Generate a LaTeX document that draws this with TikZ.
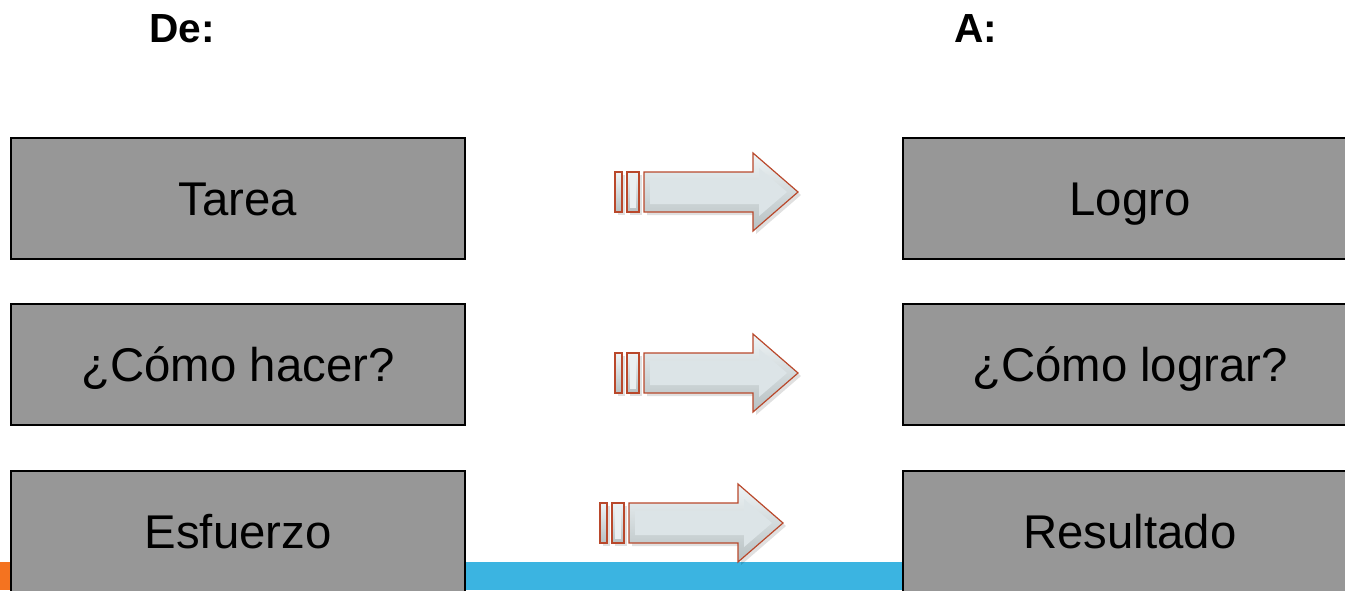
\documentclass[tikz,border=0pt]{standalone}
\usepackage{fontspec}
\setmainfont{Liberation Sans}
\usepackage{tikz,xcolor}
\usetikzlibrary{calc}

\definecolor{cajagris}{HTML}{979797}
\definecolor{bandaazul}{HTML}{3BB4E1}
\definecolor{bandanaranja}{HTML}{F47320}
\definecolor{flechaborde}{HTML}{B9482B}
\definecolor{flechaclara}{HTML}{EEF4F6}
\definecolor{flechaoscura}{HTML}{B7C0C2}
\definecolor{flechacara}{HTML}{DCE4E7}

\tikzset{
  caja/.style={draw=black, line width=0.8pt, fill=cajagris, minimum width=340.5pt,
    minimum height=90.75pt, inner sep=0pt, text height=25.5pt, text depth=0pt,
    font=\fontsize{35.5}{40}\selectfont},
  titulo/.style={font=\fontsize{30.5}{36}\selectfont\bfseries, inner sep=0pt},
  flechafondo/.style={draw=flechaborde, line width=0.9pt, top color=flechaclara,
    bottom color=flechaoscura},
  flechacaraint/.style={fill=flechacara}
}

% big bevelled arrow: #1 = left end, #2 = middle height
\newcommand{\flecha}[2]{%
  \begin{scope}[shift={(#1,#2)}]
    % shadow
    \fill[black, opacity=0.12] (3,-17) rectangle (10,23);
    \fill[black, opacity=0.12] (15,-17) rectangle (27,23);
    \fill[black, opacity=0.12] (32,-17) -- (141,-17) -- (141,-36) -- (186,3)
      -- (141,42) -- (141,23) -- (32,23) -- cycle;
    % two small bars
    \draw[flechafondo] (0,-20) rectangle (7,20);
    \draw[flechafondo] (12,-20) rectangle (24,20);
    % body
    \draw[flechafondo] (29,-20) -- (138,-20) -- (138,-39) -- (183,0)
      -- (138,39) -- (138,20) -- (29,20) -- cycle;
    % bevel face
    \fill[flechacaraint] (35,-12) -- (144,-12) -- (144,-24) -- (172,0)
      -- (144,24) -- (144,12) -- (35,12) -- cycle;
    \fill[flechacara!60!white] (15,-16) rectangle (21,16);
  \end{scope}}

\begin{document}
\begin{tikzpicture}[x=0.75pt, y=-0.75pt]
  \useasboundingbox (0,0) rectangle (1345,590);
  \clip (0,0) rectangle (1345,590);

  % band along the bottom
  \fill[bandanaranja] (0,562) rectangle (120,590);
  \fill[bandaazul] (120,562) rectangle (1345,590);

  % headers
  \node[titulo, anchor=base] (de) at (182,42) {De:};
  \node[titulo, anchor=base] (a) at (976,42) {A:};

  % left column
  \node[caja] (tarea) at (238,198.5) {Tarea};
  \node[caja] (hacer) at (238,364.5) {¿Cómo hacer?};
  \node[caja] (esfuerzo) at (238,531.5) {Esfuerzo};

  % right column
  \node[caja] (logro) at (1130,198.5) {Logro};
  \node[caja] (lograr) at (1130,364.5) {¿Cómo lograr?};
  \node[caja] (resultado) at (1130,531.5) {Resultado};

  % arrows in the middle
  \flecha{615}{192}
  \flecha{615}{373}
  \flecha{600}{523}
\end{tikzpicture}
\end{document}
